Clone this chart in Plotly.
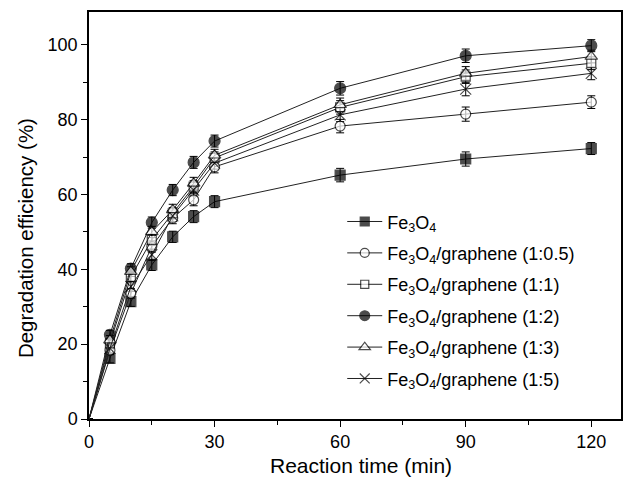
import plotly.graph_objects as go

time_min = [0, 5, 10, 15, 20, 25, 30, 60, 90, 120]

fe3o4 = [0, 16.2, 31.4, 41.2, 48.7, 54.1, 58.1, 65.2, 69.5, 72.3]
g_1_05 = [0, 18.4, 33.6, 46.1, 53.7, 58.6, 67.4, 78.3, 81.5, 84.7]
g_1_1 = [0, 20.2, 38.0, 47.9, 55.0, 62.1, 69.8, 83.3, 91.5, 95.1]
g_1_2 = [0, 22.5, 40.2, 52.5, 61.2, 68.6, 74.3, 88.4, 97.1, 99.8]
g_1_3 = [0, 21.1, 39.4, 50.0, 55.9, 63.0, 70.5, 84.0, 92.4, 96.9]
g_1_5 = [0, 18.9, 35.4, 43.9, 54.3, 61.2, 68.4, 81.3, 88.2, 92.4]

err_fe3o4 = [0, 1.2, 1.3, 1.5, 1.5, 1.6, 1.6, 1.8, 1.9, 1.6]
err_1_05 = [0, 1.2, 1.3, 1.5, 1.5, 1.6, 1.6, 1.8, 1.9, 1.7]
err_1_1 = [0, 1.2, 1.3, 1.5, 1.5, 1.6, 1.6, 1.8, 1.8, 1.7]
err_1_2 = [0, 1.2, 1.3, 1.5, 1.5, 1.6, 1.6, 1.8, 1.8, 1.6]
err_1_3 = [0, 1.2, 1.3, 1.5, 1.5, 1.6, 1.6, 1.8, 1.8, 1.7]
err_1_5 = [0, 1.2, 1.3, 1.5, 1.5, 1.6, 1.6, 1.8, 1.8, 1.7]

names = [
    "Fe<sub>3</sub>O<sub>4</sub>",
    "Fe<sub>3</sub>O<sub>4</sub>/graphene (1:0.5)",
    "Fe<sub>3</sub>O<sub>4</sub>/graphene (1:1)",
    "Fe<sub>3</sub>O<sub>4</sub>/graphene (1:2)",
    "Fe<sub>3</sub>O<sub>4</sub>/graphene (1:3)",
    "Fe<sub>3</sub>O<sub>4</sub>/graphene (1:5)",
]
series = [fe3o4, g_1_05, g_1_1, g_1_2, g_1_3, g_1_5]
errors = [err_fe3o4, err_1_05, err_1_1, err_1_2, err_1_3, err_1_5]
symbols = ["square", "circle", "square", "circle", "triangle-up", "x-thin"]
fills = ["black", "white", "white", "black", "white", "black"]
sizes = [10, 10, 9, 11, 11, 11]

fig = go.Figure()
# error bars (drawn underneath, not in legend)
for ys, es in zip(series, errors):
    fig.add_trace(go.Scatter(
        x=time_min, y=ys, mode="markers", showlegend=False, hoverinfo="skip",
        marker=dict(size=1, color="rgba(0,0,0,0)"),
        error_y=dict(type="data", array=es, visible=True, color="black",
                     thickness=1, width=4),
        cliponaxis=False,
    ))

for i, (nm, ys) in enumerate(zip(names, series)):
    sz = [0] + [sizes[i]] * (len(time_min) - 1)
    fig.add_trace(go.Scatter(
        x=time_min, y=ys, name=nm, mode="lines+markers",
        legendgroup=f"g{i}",
        line=dict(color="#222222", width=1),
        marker=dict(symbol=symbols[i], size=sz, color=fills[i],
                    line=dict(color="black", width=1.2)),
        cliponaxis=False,
    ))

fig.update_layout(
    width=626, height=477,
    margin=dict(l=89, r=3, t=12, b=58),
    paper_bgcolor="white", plot_bgcolor="white",
    font=dict(family="Liberation Sans, Arial, sans-serif", size=18, color="black"),
    showlegend=True,
    legend=dict(
        x=0.476, y=0.53, xanchor="left", yanchor="top",
        bgcolor="rgba(0,0,0,0)", borderwidth=0, itemwidth=35,
        font=dict(size=18), traceorder="grouped", tracegroupgap=5,
    ),
    xaxis=dict(
        range=[0, 127.1], tickvals=[0, 30, 60, 90, 120],
        ticks="outside", ticklen=6, tickwidth=1.3, tickcolor="black",
        showline=True, linecolor="black", linewidth=1.5, mirror=True,
        showgrid=False, zeroline=False,
        minor=dict(tickvals=[15, 45, 75, 105], ticks="outside", ticklen=4,
                   tickwidth=1.3, tickcolor="black"),
        tickfont=dict(size=18),
    ),
    yaxis=dict(
        range=[0, 108.8], tickvals=[0, 20, 40, 60, 80, 100],
        ticks="outside", ticklen=6, tickwidth=1.3, tickcolor="black",
        showline=True, linecolor="black", linewidth=1.5, mirror=True,
        showgrid=False, zeroline=False,
        minor=dict(tickvals=[10, 30, 50, 70, 90], ticks="outside", ticklen=4,
                   tickwidth=1.3, tickcolor="black"),
        tickfont=dict(size=18), ticklabelstandoff=0,
    ),
    annotations=[
        dict(text="Reaction time (min)", xref="paper", yref="paper",
             x=0.512, y=-0.115, xanchor="center", yanchor="middle",
             showarrow=False, font=dict(size=21)),
        dict(text="Degradation efficiency (%)", xref="paper", yref="paper",
             x=-0.118, y=0.445, xanchor="center", yanchor="middle",
             textangle=-90, showarrow=False, font=dict(size=20.5)),
    ],
)

fig.write_html(
    "out.html",
    config={"displayModeBar": False},
    post_script="document.body.style.margin='0';document.body.style.overflow='hidden';",
)
